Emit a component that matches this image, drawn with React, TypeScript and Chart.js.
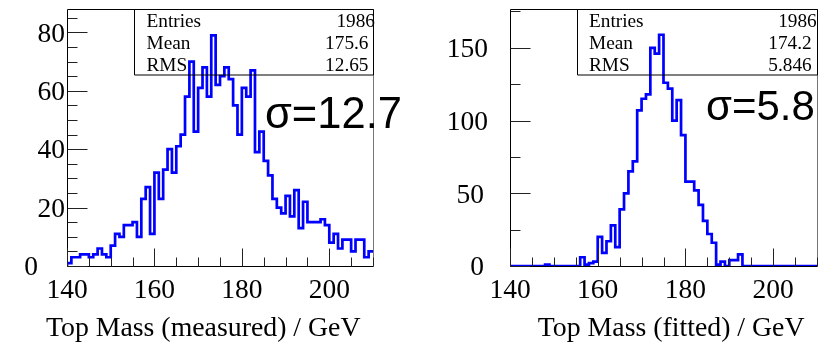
import React, { useEffect, useRef } from "react";
import { Chart, registerables } from "chart.js";

Chart.register(...registerables);

// ---- data ----
const HIST_MIN = 140;
const HIST_MAX = 210;
const BIN_WIDTH = 1;

const measuredCounts = [
  1, 3, 3, 4, 4, 3, 4, 6, 4, 3,
  7, 11, 10, 14, 14, 15, 10, 23, 27, 11,
  32, 23, 33, 40, 32, 41, 45, 58, 70, 46,
  61, 68, 58, 79, 62, 65, 68, 64, 55, 45,
  61, 58, 67, 39, 46, 36, 31, 23, 20, 18,
  24, 17, 26, 13, 22, 15, 15, 15, 16, 14,
  8, 11, 6, 9, 9, 5, 9, 9, 3, 5,
];

const fittedCounts = [
  0, 0, 0, 0, 0, 0, 0, 0, 1, 0,
  0, 0, 0, 0, 0, 0, 6, 1, 2, 3,
  20, 9, 17, 28, 13, 39, 50, 65, 72, 107,
  115, 118, 150, 146, 159, 126, 122, 100, 114, 90,
  58, 58, 52, 42, 31, 22, 16, 1, 3, 0,
  4, 4, 8, 0, 0, 0, 0, 0, 0, 0,
  0, 0, 0, 0, 0, 0, 0, 0, 0, 0,
];

const xMajorTicks = [140, 160, 180, 200];
const xMinorStep = 5;
const measuredYTicks = [0, 20, 40, 60, 80];
const fittedYTicks = [0, 50, 100, 150];

const statLabels = ["Entries", "Mean", "RMS"];
const measuredStatValues = ["1986", "175.6", "12.65"];
const fittedStatValues = ["1986", "174.2", "5.846"];

const measuredTitle = "Top Mass (measured) / GeV";
const fittedTitle = "Top Mass (fitted) / GeV";
const measuredSigma = "σ=12.7";
const fittedSigma = "σ=5.8";

// ---- helpers ----
function histPoints(counts: number[]) {
  const pts: { x: number; y: number }[] = [{ x: HIST_MIN, y: 0 }];
  counts.forEach((c, i) => pts.push({ x: HIST_MIN + i * BIN_WIDTH, y: c }));
  pts.push({ x: HIST_MIN + counts.length * BIN_WIDTH, y: counts[counts.length - 1] });
  return pts;
}

type PlotCfg = {
  counts: number[];
  yMax: number;
  yMajor: number[];
  yMinorStep: number;
  yLabelRight: number[];
  title: string;
  statValues: string[];
  statValueRight: number[];
  statLabelX: number;
  boxWidth: number;
  sigma: string;
  sigmaX: number;
  sigmaY: number;
  sigmaSize: number;
  padding: { left: number; right: number; top: number; bottom: number };
};

const SERIF = '"Liberation Serif", "Times New Roman", serif';
const SANS = '"Liberation Sans", Arial, sans-serif';

function makePlugin(cfg: PlotCfg) {
  return {
    id: "rootFrame",
    afterDraw(chart: any) {
      const ctx: CanvasRenderingContext2D = chart.ctx;
      const area = chart.chartArea;
      const xs = chart.scales.x;
      const ys = chart.scales.y;
      const L = Math.floor(area.left) + 0.5;
      const R = Math.floor(area.right) + 0.5;
      const T = Math.floor(area.top) + 0.5;
      const B = Math.floor(area.bottom) + 0.5;
      ctx.save();
      ctx.lineWidth = 1;
      // frame
      ctx.strokeStyle = "#000";
      ctx.beginPath();
      ctx.moveTo(R, T);
      ctx.lineTo(L, T);
      ctx.lineTo(L, B);
      ctx.lineTo(R, B);
      ctx.stroke();
      ctx.strokeStyle = "#777";
      ctx.beginPath();
      ctx.moveTo(R, T);
      ctx.lineTo(R, B);
      ctx.stroke();
      // ticks
      ctx.strokeStyle = "#222";
      ctx.beginPath();
      for (let v = HIST_MIN; v <= HIST_MAX + 1e-9; v += xMinorStep) {
        const px = Math.round(xs.getPixelForValue(v)) + 0.5;
        const major = xMajorTicks.includes(v);
        const len = major ? 18 : 9;
        ctx.moveTo(px, B);
        ctx.lineTo(px, B - len);
      }
      for (let v = 0; v <= cfg.yMax + 1e-9; v += cfg.yMinorStep) {
        const py = Math.round(ys.getPixelForValue(v)) + 0.5;
        const major = cfg.yMajor.includes(v);
        const len = major ? 20 : 10;
        ctx.moveTo(L, py);
        ctx.lineTo(L + len, py);
      }
      ctx.stroke();

      // tick labels
      const tickSize = 27.5;
      ctx.fillStyle = "#000";
      ctx.font = `${tickSize}px ${SERIF}`;
      ctx.textBaseline = "alphabetic";
      ctx.textAlign = "center";
      xMajorTicks.forEach((v) => {
        ctx.fillText(String(v), xs.getPixelForValue(v), 298);
      });
      ctx.textAlign = "right";
      cfg.yMajor.forEach((v, i) => {
        const py = ys.getPixelForValue(v);
        ctx.fillText(String(v), cfg.yLabelRight[i], py + tickSize * 0.338);
      });

      // axis title
      ctx.textAlign = "right";
      ctx.font = `27.8px ${SERIF}`;
      ctx.fillText(cfg.title, area.right - 12.5, 336);

      // stats box
      ctx.strokeStyle = "#000";
      const boxL = Math.floor(area.right - cfg.boxWidth) + 0.5;
      ctx.beginPath();
      ctx.rect(boxL, T, R - boxL, 75 - T);
      ctx.stroke();
      ctx.font = `19.3px ${SERIF}`;
      const rows = [26.5, 49, 71.3];
      statLabels.forEach((lab, i) => {
        ctx.textAlign = "left";
        ctx.fillText(lab, cfg.statLabelX, rows[i]);
        ctx.textAlign = "right";
        ctx.fillText(cfg.statValues[i], cfg.statValueRight[i], rows[i]);
      });

      // sigma annotation
      ctx.textAlign = "left";
      ctx.font = `${cfg.sigmaSize}px ${SANS}`;
      ctx.fillText(cfg.sigma, cfg.sigmaX, cfg.sigmaY);
      ctx.restore();
    },
  };
}

function Hist({ cfg, left }: { cfg: PlotCfg; left: number }) {
  const ref = useRef<HTMLCanvasElement | null>(null);
  useEffect(() => {
    if (!ref.current) return;
    const chart = new Chart(ref.current, {
      type: "line",
      data: {
        datasets: [
          {
            data: histPoints(cfg.counts),
            stepped: true,
            borderColor: "#0000ff",
            borderWidth: 2.7,
            pointRadius: 0,
            fill: false,
            tension: 0,
          },
        ],
      },
      options: {
        responsive: false,
        animation: false,
        events: [],
        layout: { padding: cfg.padding },
        scales: {
          x: { type: "linear", min: HIST_MIN, max: HIST_MAX, display: false },
          y: { type: "linear", min: 0, max: cfg.yMax, display: false },
        },
        plugins: { legend: { display: false }, tooltip: { enabled: false } },
      },
      plugins: [makePlugin(cfg)],
    } as any);
    return () => chart.destroy();
  }, [cfg]);
  return (
    <canvas
      ref={ref}
      width={409}
      height={343}
      style={{ position: "absolute", left, top: 0, width: 409, height: 343 }}
    />
  );
}

const leftCfg: PlotCfg = {
  counts: measuredCounts,
  yMax: 88,
  yMajor: measuredYTicks,
  yMinorStep: 5,
  yLabelRight: [38, 65, 65, 65, 65],
  title: measuredTitle,
  statValues: measuredStatValues,
  statValueRight: [375, 368.5, 368.5],
  statLabelX: 146.5,
  boxWidth: 239,
  sigma: measuredSigma,
  sigmaX: 265,
  sigmaY: 128,
  sigmaSize: 43.5,
  padding: { left: 67, right: 36, top: 9, bottom: 77 },
};

const rightCfg: PlotCfg = {
  counts: fittedCounts,
  yMax: 176.7,
  yMajor: fittedYTicks,
  yMinorStep: 25,
  yLabelRight: [75, 75, 79, 79],
  title: fittedTitle,
  statValues: fittedStatValues,
  statValueRight: [407.7, 402.7, 402.7],
  statLabelX: 180,
  boxWidth: 240,
  sigma: fittedSigma,
  sigmaX: 297,
  sigmaY: 120,
  sigmaSize: 42,
  padding: { left: 101, right: 1, top: 9, bottom: 77 },
};

export default function App() {
  return (
    <div
      style={{
        position: "absolute",
        left: 0,
        top: 0,
        width: 818,
        height: 343,
        background: "#fff",
        overflow: "hidden",
      }}
    >
      <Hist cfg={leftCfg} left={0} />
      <Hist cfg={rightCfg} left={409} />
    </div>
  );
}
